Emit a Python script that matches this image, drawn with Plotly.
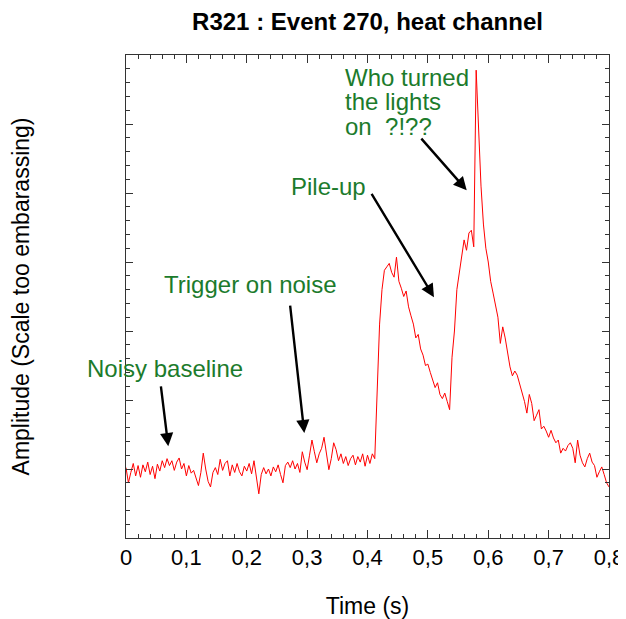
import numpy as np
import plotly.graph_objects as go

# =============================================================================
# DONNEES (amplitude en unites arbitraires, echantillonnee toutes les 4 ms)
# =============================================================================

SAMPLE_PERIOD = 0.004  # s

AMPLITUDE = [
    1.02, 0.80, 0.95, 1.08, 0.90, 1.05, 0.88, 1.06, 0.96, 1.10,
    0.92, 1.04, 0.86, 1.07, 0.97, 1.12, 1.02, 1.15, 1.05, 1.12,
    0.98, 1.10, 1.16, 1.00, 1.08, 0.90, 1.05, 0.94, 0.98, 0.85,
    0.76, 0.95, 1.23, 1.00, 0.82, 0.74, 0.95, 1.02, 0.92, 1.14,
    0.98, 1.08, 1.12, 0.90, 1.06, 0.95, 1.08, 0.96, 0.90, 1.04,
    0.97, 1.08, 0.93, 1.12, 0.86, 0.64, 0.92, 1.02, 0.93, 1.00,
    0.90, 1.03, 0.96, 1.06, 0.92, 0.80, 1.05, 1.10, 1.02, 1.12,
    1.00, 1.08, 0.95, 1.25, 1.10, 0.99, 1.20, 1.42, 1.25, 1.09,
    1.22, 1.30, 1.46, 1.20, 0.99, 1.15, 1.38, 1.28, 1.12, 1.22,
    1.08, 1.18, 1.05, 1.15, 1.20, 1.06, 1.18, 1.10, 1.22, 1.04,
    1.20, 1.08, 1.22, 1.15, 2.30, 3.10, 3.60, 3.88, 3.93, 3.98,
    3.85, 3.78, 4.07, 3.72, 3.62, 3.50, 3.58, 3.35, 3.22, 3.10,
    2.90, 2.95, 2.74, 2.65, 2.50, 2.52, 2.40, 2.30, 2.18, 2.25,
    2.08, 2.02, 2.10, 1.98, 1.86, 2.62, 3.00, 3.60, 3.85, 4.05,
    4.32, 4.17, 4.42, 4.46, 4.22, 6.78, 5.96, 5.10, 4.55, 4.20,
    4.00, 3.72, 3.55, 3.35, 3.20, 2.82, 3.06, 2.90, 2.70, 2.48,
    2.35, 2.42, 2.36, 2.24, 2.12, 1.98, 1.81, 2.08, 1.95, 1.70,
    1.78, 1.86, 1.58, 1.62, 1.55, 1.46, 1.56, 1.45, 1.38, 1.42,
    1.23, 1.30, 1.26, 1.34, 1.38, 1.30, 1.09, 1.42, 1.20, 1.09,
    1.03, 1.15, 1.23, 1.10, 1.05, 0.88, 0.96, 1.03, 0.92, 0.80,
    0.74,
]

TIME = np.arange(len(AMPLITUDE)) * SAMPLE_PERIOD

# commentaires
NOTE_NOISY = "Noisy baseline"
NOTE_TRIGGER = "Trigger on noise"
NOTE_PILEUP = "Pile-up"
NOTE_LIGHTS = ["Who turned", "the lights", "on\u00a0 ?!??"]

ARROWS = [
    # (x tete, y tete, x queue, y queue)
    (0.070, 1.33, 0.0575, 2.22),
    (0.2953, 1.52, 0.2716, 3.39),
    (0.5101, 3.49, 0.4053, 5.01),
    (0.5643, 5.04, 0.487, 5.81),
]

VERT = "#1c7b2c"
FONT = "Liberation Sans, Arial, sans-serif"

# =============================================================================
# FIGURE
# =============================================================================

fig = go.Figure()

fig.add_trace(go.Scatter(
    x=TIME,
    y=AMPLITUDE,
    mode="lines",
    line=dict(color="red", width=1),
    showlegend=False,
))

# textes verts
fig.add_annotation(x=0.0646, y=2.46, text=NOTE_NOISY, showarrow=False,
                   font=dict(size=24, color=VERT, family=FONT))
fig.add_annotation(x=0.2054, y=3.68, text=NOTE_TRIGGER, showarrow=False,
                   font=dict(size=24, color=VERT, family=FONT))
fig.add_annotation(x=0.3362, y=5.09, text=NOTE_PILEUP, showarrow=False,
                   font=dict(size=24, color=VERT, family=FONT))
for i, ligne in enumerate(NOTE_LIGHTS):
    fig.add_annotation(x=0.3594, y=6.68 - 0.36 * i, text=ligne, showarrow=False,
                       xanchor="left",
                       font=dict(size=24, color=VERT, family=FONT))

# fleches noires
for xh, yh, xt, yt in ARROWS:
    fig.add_annotation(
        x=xh, y=yh, ax=xt, ay=yt,
        xref="x", yref="y", axref="x", ayref="y",
        text="", showarrow=True,
        arrowhead=2, arrowsize=1.1, arrowwidth=2.4, arrowcolor="black",
        standoff=0,
    )

axe = dict(
    showline=True, linecolor="#333", linewidth=1, mirror="allticks",
    ticks="inside", tickcolor="#333", showgrid=False, zeroline=False,
    automargin=False,
)

# la page ajoute 8 px de marge : la figure est reduite d'autant
fig.update_layout(
    width=618, height=611,
    margin=dict(l=118, r=17, t=47, b=81),
    plot_bgcolor="white", paper_bgcolor="white",
    separators=", ",
    title=dict(text="<b>R321 : Event 270, heat channel</b>",
               xref="paper", x=0.5, xanchor="center",
               yref="container", y=0.977, yanchor="middle",
               font=dict(size=24, color="black", family=FONT)),
    xaxis=dict(
        range=[0, 0.8], dtick=0.1, ticklen=8,
        minor=dict(dtick=0.02, ticklen=4, ticks="inside", tickcolor="#333"),
        tickfont=dict(size=22, color="black", family=FONT),
        title=dict(text="Time (s)", standoff=34,
                   font=dict(size=23, color="black", family=FONT)),
        **axe,
    ),
    yaxis=dict(
        range=[0, 7], dtick=1, ticklen=7, showticklabels=False,
        minor=dict(dtick=0.2, ticklen=4, ticks="inside", tickcolor="#333"),
        title=dict(text="Amplitude (Scale too embarassing)", standoff=90,
                   font=dict(size=23, color="black", family=FONT)),
        **axe,
    ),
)

fig.write_html("out.html")
